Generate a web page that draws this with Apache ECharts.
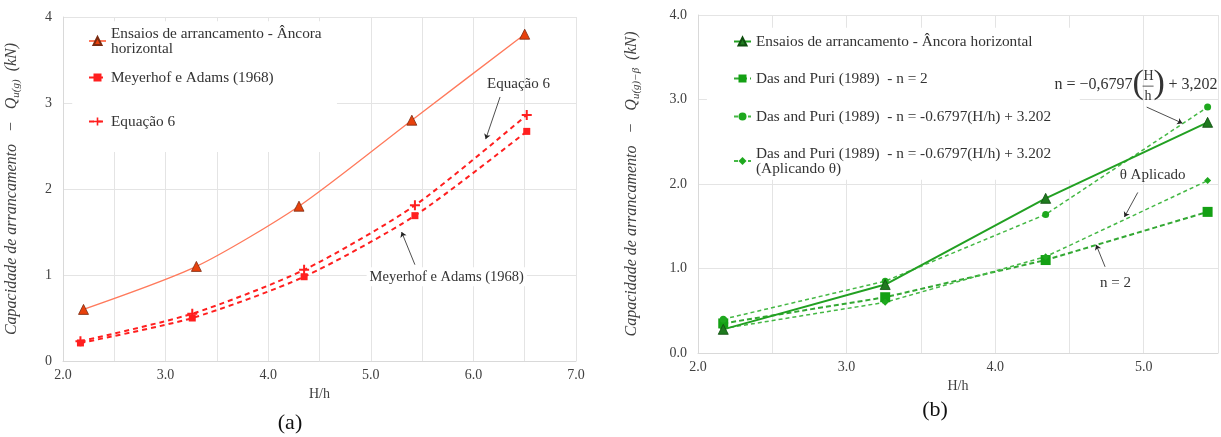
<!DOCTYPE html>
<html>
<head>
<meta charset="utf-8">
<script src="https://cdn.jsdelivr.net/npm/echarts@6/dist/echarts.min.js"></script>
<style>
  html, body { margin: 0; padding: 0; background: #fff; }
  #chart { width: 1221px; height: 437px; }
</style>
</head>
<body>
<div id="chart"></div>
<script>
// (a) Ensaios vs. Meyerhof e Adams / Equação 6
const ensaiosX_a = [2.2, 3.3, 4.3, 5.4, 6.5];
const ensaiosY_a = [0.6, 1.1, 1.8, 2.8, 3.8];
const calcX_a = [2.17, 3.26, 4.35, 5.43, 6.52];
const meyerhofY = [0.21, 0.5, 0.98, 1.69, 2.67];
const equacao6Y = [0.23, 0.55, 1.06, 1.81, 2.86];

// (b) Ensaios vs. Das and Puri
const hX_b = [2.17, 3.26, 4.34, 5.43];
const ensaiosY_b = [0.28, 0.81, 1.83, 2.73];
const dasN2Y = [0.35, 0.66, 1.1, 1.67];
const dasNVarY = [0.4, 0.85, 1.64, 2.91];
const dasThetaY = [0.29, 0.6, 1.14, 2.04];

const names = {
  ensA: "Ensaios de arrancamento - Âncora\nhorizontal",
  meyer: "Meyerhof e Adams (1968)",
  eq6: "Equação 6",
  ensB: "Ensaios de arrancamento - Âncora horizontal",
  n2: "Das and Puri (1989)  - n = 2",
  nvar: "Das and Puri (1989)  - n = -0.6797(H/h) + 3.202",
  theta: "Das and Puri (1989)  - n = -0.6797(H/h) + 3.202\n(Aplicando θ)",
};

const FONT = "Liberation Serif";
const zip = (xs, ys) => xs.map((x, i) => [x, ys[i]]);
const plus = "path://M4,0H6V4H10V6H6V10H4V6H0V4H4Z";

const chart = echarts.init(document.getElementById("chart"));

function xAxis(gridIndex, max) {
  return {
    type: "value", gridIndex, min: 2, max, interval: 0.5,
    name: "H/h", nameLocation: "middle", nameGap: 23,
    nameTextStyle: { fontFamily: FONT, fontSize: 14, color: "#404040" },
    axisLine: { lineStyle: { color: "#d9d9d9" } },
    axisTick: { show: false },
    axisLabel: {
      margin: 7, fontFamily: FONT, fontSize: 14, color: "#404040",
      formatter: (v) => (v % 1 === 0 ? v.toFixed(1) : ""),
    },
    splitLine: { lineStyle: { color: "#e4e4e4" } },
  };
}

function yAxis(gridIndex, digits, sub, gap) {
  const it = { fontFamily: FONT, fontStyle: "italic", fontSize: 16, color: "#404040" };
  return {
    type: "value", gridIndex, min: 0, max: 4, interval: 1,
    name: "{i|Capacidade de arrancamento   −   }{i|Q}{s|" + sub + "}{i|  (kN)}",
    nameLocation: "middle", nameGap: gap,
    nameTextStyle: {
      rich: {
        i: it,
        s: { fontFamily: FONT, fontStyle: "italic", fontSize: 11, color: "#404040", padding: [9, 0, 0, 0] },
      },
    },
    axisLine: { show: true, lineStyle: { color: "#d9d9d9" } },
    axisTick: { show: false },
    axisLabel: {
      margin: 11, fontFamily: FONT, fontSize: 14, color: "#404040",
      formatter: (v) => v.toFixed(digits),
    },
    splitLine: { lineStyle: { color: "#e4e4e4" } },
  };
}

function legend(name, left, top) {
  return {
    data: [name], left, top, orient: "vertical", padding: 0,
    itemWidth: 17, itemHeight: 10,
    textStyle: { fontFamily: FONT, fontSize: 15.3, color: "#333", lineHeight: 15 },
  };
}

function arrows(list) {
  return {
    silent: true, animation: false,
    symbol: ["none", "arrow"], symbolSize: 5,
    lineStyle: { color: "#222", width: 0.8, type: "solid" },
    label: { show: false },
    emphasis: { disabled: true },
    data: list.map((a) => [{ coord: a[0] }, { coord: a[1] }]),
  };
}

const arrowsA = [
  [[6.26, 3.07], [6.12, 2.58]],
  [[5.43, 1.12], [5.3, 1.5]],
];
const arrowsB = [
  [[5.02, 2.91], [5.26, 2.72]],
  [[4.96, 1.9], [4.87, 1.61]],
  [[4.74, 1.02], [4.68, 1.28]],
];

const red = "#ff1f1f";
const green = "#22a022";
const lightGreen = "#45b845";

chart.setOption({
  animation: false,
  grid: [
    { left: 63, top: 17, width: 513, height: 344 },
    { left: 698, top: 15, width: 520, height: 338 },
  ],
  xAxis: [xAxis(0, 7), xAxis(1, 5.5)],
  yAxis: [yAxis(0, 0, "u(g)", 41), yAxis(1, 1, "u(g)−β", 56)],
  legend: [
    legend(names.ensA, 88, 26),
    legend(names.meyer, 88, 70),
    legend(names.eq6, 88, 114),
    legend(names.ensB, 733, 34),
    legend(names.n2, 733, 71),
    legend(names.nvar, 733, 109),
    legend(names.theta, 733, 146),
  ],
  series: [
    {
      name: names.ensA, type: "line", xAxisIndex: 0, yAxisIndex: 0,
      data: zip(ensaiosX_a, ensaiosY_a), smooth: 0.25,
      symbol: "triangle", symbolSize: 10,
      lineStyle: { color: "#ff7a5c", width: 1.3 },
      itemStyle: { color: "#e8410c", borderColor: "#7a2a10", borderWidth: 0.8 },
      z: 3,
    },
    {
      name: names.meyer, type: "line", xAxisIndex: 0, yAxisIndex: 0,
      data: zip(calcX_a, meyerhofY), smooth: 0.25,
      symbol: "rect", symbolSize: 7,
      lineStyle: { color: red, width: 2, type: [5, 4] },
      itemStyle: { color: red },
      markLine: arrows(arrowsA),
    },
    {
      name: names.eq6, type: "line", xAxisIndex: 0, yAxisIndex: 0,
      data: zip(calcX_a, equacao6Y), smooth: 0.25,
      symbol: plus, symbolSize: 10,
      lineStyle: { color: red, width: 2, type: [5, 4] },
      itemStyle: { color: red },
    },
    {
      name: names.ensB, type: "line", xAxisIndex: 1, yAxisIndex: 1,
      data: zip(hX_b, ensaiosY_b),
      symbol: "triangle", symbolSize: 10,
      lineStyle: { color: green, width: 2 },
      itemStyle: { color: "#1f7a1f", borderColor: "#0d4d0d", borderWidth: 0.8 },
      z: 4,
    },
    {
      name: names.n2, type: "line", xAxisIndex: 1, yAxisIndex: 1,
      data: zip(hX_b, dasN2Y),
      symbol: "rect", symbolSize: 10,
      lineStyle: { color: "#33a833", width: 2, type: [5, 3] },
      itemStyle: { color: "#14a014" },
      markLine: arrows(arrowsB),
    },
    {
      name: names.nvar, type: "line", xAxisIndex: 1, yAxisIndex: 1,
      data: zip(hX_b, dasNVarY),
      symbol: "circle", symbolSize: 7,
      lineStyle: { color: lightGreen, width: 1.5, type: [4, 3] },
      itemStyle: { color: "#1ea81e" },
    },
    {
      name: names.theta, type: "line", xAxisIndex: 1, yAxisIndex: 1,
      data: zip(hX_b, dasThetaY),
      symbol: "diamond", symbolSize: 7,
      lineStyle: { color: lightGreen, width: 1.5, type: [4, 3] },
      itemStyle: { color: "#1ea81e" },
    },
  ],
});

// annotations and captions, placed through the axes
const toPx = (g, p) => chart.convertToPixel({ gridIndex: g }, p);
const note = (g, p, text, size) => {
  const [x, y] = toPx(g, p);
  return {
    type: "text", x, y, z: 5,
    style: { text, fontFamily: FONT, fontSize: size || 15, fill: "#333", align: "center", verticalAlign: "middle" },
  };
};
const box = (g, p0, p1) => {
  const a = toPx(g, p0), b = toPx(g, p1);
  return {
    type: "rect", z: 1, silent: true,
    shape: { x: a[0], y: a[1], width: b[0] - a[0], height: b[1] - a[1] },
    style: { fill: "#fff" },
  };
};
const fTxt = (x, y, text, size) => ({
  type: "text", x, y, z: 5,
  style: { text, fontFamily: FONT, fontSize: size, fill: "#333", align: "left", verticalAlign: "middle" },
});
const fAnchor = toPx(1, [4.4, 3.17]);
const meyerLabel = note(0, [5.74, 0.98], names.meyer, 14.5);
meyerLabel.style.backgroundColor = "#fff";
meyerLabel.style.padding = [2, 3];

chart.setOption({
  graphic: [
    box(0, [2.09, 3.95], [4.67, 2.43]),
    box(1, [2.06, 3.85], [4.57, 2.05]),
    note(0, [6.44, 3.22], names.eq6),
    meyerLabel,
    note(1, [5.06, 2.11], "θ Aplicado"),
    note(1, [4.81, 0.83], "n = 2"),
    {
      type: "group", x: fAnchor[0], y: fAnchor[1], z: 5,
      children: [
        fTxt(0, 0, "n = −0,6797", 16),
        fTxt(78, -1, "(", 34),
        fTxt(89, -9, "H", 14),
        { type: "line", z: 5, shape: { x1: 88, y1: 1, x2: 99, y2: 1 }, style: { stroke: "#333", lineWidth: 0.8 } },
        fTxt(90, 11, "h", 14),
        fTxt(99, -1, ")", 34),
        fTxt(114, 0, "+ 3,202", 16),
      ],
    },
    {
      type: "text", x: 290, y: 423, z: 5,
      style: { text: "(a)", fontFamily: FONT, fontSize: 22, fill: "#111", align: "center", verticalAlign: "middle" },
    },
    {
      type: "text", x: 935, y: 410, z: 5,
      style: { text: "(b)", fontFamily: FONT, fontSize: 22, fill: "#111", align: "center", verticalAlign: "middle" },
    },
  ],
});

window.addEventListener("resize", () => chart.resize());
</script>
</body>
</html>
